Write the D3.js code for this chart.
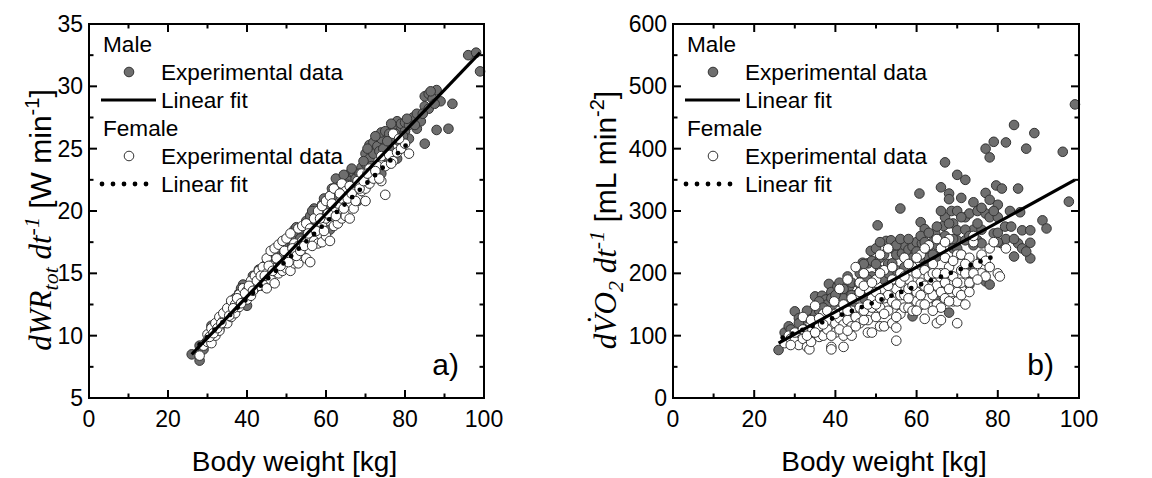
<!DOCTYPE html>
<html>
<head>
<meta charset="utf-8">
<script src="https://cdn.jsdelivr.net/npm/d3@7"></script>
<style>
  html, body { margin: 0; padding: 0; background: #fff; }
  svg { display: block; }
</style>
</head>
<body>
<svg id="chart"></svg>
<script>
// Panel a) work rate vs body weight
const maleA = [
  [26,8.5],[28,8.0],[28,9.2],[29,8.9],[30,9.6],[31,10.8],[31,9.8],[32,10.2],[33,10.5],[33,11.2],
  [34,11.0],[35,11.6],[36,12.5],[37,12.2],[37,13.0],[38,13.4],[38,12.6],[39,13.0],[39,14.1],[40,12.4],
  [40,13.6],[41,14.0],[42,14.6],[43,14.3],[43,15.3],[44,15.1],[44,14.0],[45,15.0],[46,15.6],[47,15.8],
  [47,16.4],[48,16.2],[48,17.0],[49,17.4],[50,17.2],[50,16.5],[51,17.7],[52,18.5],[52,17.6],[53,18.2],
  [54,18.4],[55,19.2],[55,18.0],[56,19.6],[57,20.2],[57,19.2],[58,20.0],[59,20.5],[59,19.8],[60,20.8],
  [60,19.5],[61,21.2],[61,18.5],[62,21.8],[62,20.6],[63,22.2],[63,21.0],[64,22.5],[64,21.6],[65,22.8],
  [65,21.4],[66,23.0],[66,22.4],[67,23.1],[67,22.0],[68,22.8],[68,20.8],[69,23.5],[69,22.6],[70,24.6],
  [70,23.8],[71,25.3],[71,24.2],[72,25.5],[72,24.6],[73,25.2],[73,26.0],[74,25.8],[74,23.0],[74,26.3],
  [75,26.4],[75,24.4],[76,26.2],[76,25.0],[77,26.8],[77,25.8],[78,27.2],[78,24.2],[79,26.5],[79,27.0],
  [80,26.4],[80,27.1],[81,26.9],[81,25.8],[82,27.5],[83,27.8],[83,26.6],[84,27.2],[85,28.4],[85,25.4],
  [85,29.2],[86,29.4],[86,28.2],[87,29.0],[88,29.7],[88,26.5],[89,28.8],[91,26.6],[92,28.6],[96,32.5],
  [98,32.7],[99,31.2],
  [29.5,9.4],[32.5,10.9],[34.5,11.6],[36.5,12.0],[38.5,13.8],[41.5,14.8],[42.5,14.0],[44.5,15.6],[45.5,15.4],
  [46.5,16.0],[49.5,16.8],[51.5,17.2],[52.5,18.7],[53.5,17.8],[55.5,18.8],[56.5,20.0],[58.5,19.2],[59.5,21.0],
  [60.5,20.1],[61.5,21.8],[62.5,22.6],[63.5,22.0],[64.5,22.9],[65.5,22.1],[66.5,23.4],[67.5,22.6],[68.5,23.0],
  [69.5,24.0],[70.5,25.0],[71.5,23.6],[72.5,26.0],[73.5,24.8],[74.5,25.0],[75.5,25.6],[76.5,27.0],[77.5,26.2],
  [78.5,25.6],[79.5,26.0],[80.5,27.4],[82.5,26.9],[84.5,27.8],[86.5,29.6],[87.5,28.6]
];
const femaleA = [
  [28,8.4],[29,9.2],[30,9.5],[30,10.1],[31,9.4],[31,10.6],[32,10.0],[32,11.0],[33,10.4],[33,11.5],
  [34,11.2],[34,11.8],[35,11.0],[35,12.2],[36,11.5],[36,12.8],[37,11.8],[37,12.5],[38,12.3],[38,13.3],
  [39,12.8],[39,13.8],[40,12.9],[40,13.6],[41,13.2],[41,14.4],[42,13.8],[42,14.8],[43,14.0],[43,15.2],
  [44,14.3],[44,15.5],[45,13.8],[45,15.0],[45,16.2],[46,14.5],[46,15.6],[46,16.8],[47,14.2],[47,15.4],
  [47,17.0],[48,15.0],[48,16.2],[48,17.3],[49,15.2],[49,16.0],[49,17.6],[50,15.4],[50,16.6],[50,17.8],
  [51,15.2],[51,16.3],[51,18.2],[52,15.8],[52,16.8],[52,17.4],[53,15.8],[53,17.2],[53,18.6],[54,16.4],
  [54,17.6],[54,18.8],[55,16.2],[55,17.6],[55,19.0],[56,15.9],[56,17.8],[56,18.6],[57,17.6],[57,19.4],
  [58,17.4],[58,18.8],[58,20.0],[59,17.5],[59,19.0],[59,20.4],[60,18.0],[60,19.4],[60,20.8],[61,17.6],
  [61,19.6],[61,21.2],[62,18.8],[62,20.2],[62,21.8],[63,19.0],[63,20.6],[64,19.4],[64,21.0],[64,22.2],
  [65,19.6],[65,20.4],[65,21.6],[66,19.4],[66,20.6],[66,22.0],[67,20.2],[67,21.5],[68,21.0],[68,22.4],
  [69,21.6],[69,23.0],[70,20.8],[70,21.8],[71,22.2],[71,23.4],[72,22.6],[73,23.6],[74,22.4],[74,24.4],
  [75,21.3],[75,23.6],[76,24.5],[77,24.0],[77,26.2],[78,24.7],[79,25.0],[80,25.4],[81,24.6],
  [30.5,9.9],[31.5,10.2],[32.5,10.6],[33.5,11.0],[35.5,11.6],[36.5,12.2],[37.5,13.0],[38.5,12.6],[39.5,13.4],
  [40.5,14.0],[41.5,13.6],[42.5,14.4],[43.5,14.8],[44.5,14.8],[45.5,15.6],[46.5,15.2],[47.5,16.2],[48.5,15.6],
  [49.5,16.8],[50.5,15.9],[51.5,17.0],[52.5,16.4],[53.5,16.8],[54.5,17.2],[55.5,18.2],[56.5,17.2],[57.5,18.4],
  [58.5,19.4],[59.5,18.4],[60.5,19.8],[61.5,20.6],[62.5,19.6],[63.5,21.4],[64.5,20.2],[65.5,21.0],[66.5,21.4],
  [67.5,20.8],[68.5,21.8],[69.5,22.4],[70.5,23.0],[72.5,23.2],[73.5,22.6],[76.5,23.8],[78.5,25.8]
];
const maleFitA = [[26, 8.5], [99, 32.7]];
const femaleFitA = [[28, 9.3], [81, 25.5]];

// Panel b) oxygen uptake vs body weight
const maleB = [
  [26,77],[27.5,105],[28.5,115],[30,139],[31,128],[32,112],[32.8,94],[33,128],[34,126],[35,135],
  [35,163],[36,140],[36.7,164],[37.6,158],[38,150],[38.4,183],[39,170],[40,145],[40.5,179],[41,185],
  [41.7,168],[42,160],[42,140],[43.4,179],[44,150],[44,185],[45,165],[45.8,184],[46,170],[46.7,217],
  [47,200],[47,160],[48,216],[48.7,236],[49,195],[49,220],[50,240],[50.4,277],[51,205],[51,225],
  [52,190],[52.5,252],[53,215],[53.7,253],[54,216],[54,240],[55,205],[55,230],[56,304],[56.4,232],
  [56.4,142],[57,225],[57,245],[58,238],[58,210],[59,243],[59,131],[59.7,232],[60,250],[60.5,147],
  [60.7,328],[61,282],[61,225],[61.3,248],[62,271],[62,235],[62,210],[63,243],[63,225],[64,250],
  [64.5,158],[64.6,264],[65,227],[65,245],[66,338],[66,255],[66,179],[66.6,276],[67,378],[67,290],
  [68,328],[68,319],[68,253],[68,137],[68.6,300],[69,240],[69,280],[70,358],[70,269],[70,253],
  [70,300],[71,321],[71,230],[72,350],[72,290],[72,253],[73,296],[73,210],[73,200],[73,182],
  [74,314],[74,245],[74,270],[75,253],[75,300],[76,270],[76,248],[76,225],[77,400],[77,329],
  [77,296],[77,187],[78,386],[78,318],[78,290],[78,182],[79,411],[79,264],[79.6,341],[80,310],
  [80,265],[80,290],[81,336],[81,248],[81.8,275],[82,410],[82,255],[83.3,275],[84,438],[84,227],
  [85,336],[85.5,298],[85,248],[86,269],[86,240],[87,400],[88,269],[88,249],[88,224],[89,425],
  [91,285],[92,272],[97.5,315],[96,395],[99,471],
  [29,110],[31,120],[33,140],[34,100],[36,155],[37,145],[39,160],[40,165],[42,175],[43,195],[44,165],
  [46,200],[47,215],[48,190],[50,215],[51,250],[52,230],[53,200],[55,245],[56,255],[57,210],[58,255],
  [59,225],[60,235],[61,260],[62,250],[63,265],[64,230],[65,275],[66,300],[67,260],[68,280],[69,255],
  [70,240],[71,290],[72,270],[73,260],[75,280],[76,305],[79,300],[80,250],[83,300],[84,255],[87,235]
];
const femaleB = [
  [27.5,88],[28.5,100],[29,95],[30,92],[31,85],[31,105],[32,95],[32,130],[33,82],[33.6,78],
  [34,110],[34,90],[35,125],[35,148],[36,98],[36,115],[37,135],[37,100],[38,110],[38,125],
  [39,82],[39,78],[39.7,155],[40,120],[40,105],[41,175],[41,140],[41,128],[42,82],[42,100],
  [42,118],[43,125],[43,190],[44,115],[44,100],[44,140],[45,210],[45,160],[45,130],[46,120],
  [46,145],[46,185],[47,200],[47,140],[48,175],[48,105],[48,125],[49,105],[49,160],[49,145],
  [50,130],[50,190],[50,170],[51,145],[51,230],[51,115],[52,205],[52,115],[52,160],[53,165],
  [53,140],[53,240],[54,190],[54,120],[54,155],[55,92],[55,113],[55,150],[55,175],[56,200],
  [56,135],[56,165],[57,225],[57,165],[57,145],[58,145],[58,190],[58,175],[59,210],[59,140],
  [59,160],[60,200],[60,170],[60,155],[61,230],[61,150],[61,185],[62,127],[62,180],[62,205],
  [63,245],[63,195],[63,160],[64,165],[64,215],[64,185],[65,120],[65,180],[65,255],[65,150],
  [66,145],[66,200],[66,240],[66,170],[67,160],[67,225],[67,185],[68,175],[68,210],[68,255],
  [69,195],[69,155],[70,120],[70,155],[70,170],[70,230],[71,230],[71,205],[71,185],[72,150],
  [72,200],[73,185],[73,225],[74,250],[74,260],[75,215],[76,230],[76,200],[77,195],[78,240],
  [79,250],[80,200],[80.5,195],[82,240],
  [29,85],[30,105],[32,110],[33,100],[34,125],[35,105],[36,128],[37,118],[38,140],[39,100],[40,135],
  [41,110],[42,150],[43,140],[43,108],[44,160],[45,115],[46,170],[47,125],[47,180],[48,150],[49,185],
  [50,150],[51,160],[51,200],[52,135],[53,180],[54,210],[55,130],[56,185],[57,195],[58,160],[58,215],
  [59,180],[60,140],[60,225],[61,165],[62,150],[62,240],[63,175],[64,140],[64,200],[65,200],[66,125],
  [67,200],[67,250],[68,155],[69,220],[70,185],[71,165],[72,215],[73,170],[74,200],[75,190],[77,220],
  [78,210]
];
const maleFitB = [[26, 88], [99, 350]];
const femaleFitB = [[27, 97], [80.5, 231]];

const xTicks = [0, 20, 40, 60, 80, 100];
const yTicksA = [5, 10, 15, 20, 25, 30, 35];
const yTicksB = [0, 100, 200, 300, 400, 500, 600];
const legendLabels = ["Male", "Experimental data", "Linear fit", "Female", "Experimental data", "Linear fit"];

const W = 1152, H = 478;
const SANS = "Arial, 'Liberation Sans', Helvetica, sans-serif";
const SERIF = "'Times New Roman', 'Liberation Serif', serif";
const maleFill = "#6e6e6e", pointStroke = "#333";

const svg = d3.select("#chart").attr("width", W).attr("height", H);

function drawPanel(p) {
  const x = d3.scaleLinear().domain([0, 100]).range([p.left, p.right]);
  const y = d3.scaleLinear().domain(p.yDomain).range([p.bottom, p.top]);
  const g = svg.append("g");

  // ticks (inward, mirrored on all sides)
  const major = 8, minor = 4.5;
  const xMinor = d3.range(10, 100, 20);
  const yMinor = p.yTicks.slice(1).map((d, i) => (d + p.yTicks[i]) / 2);
  const tick = (x1, y1, x2, y2) => g.append("line")
    .attr("x1", x1).attr("y1", y1).attr("x2", x2).attr("y2", y2)
    .attr("stroke", "#000").attr("stroke-width", 2);
  xTicks.forEach(d => { tick(x(d), p.bottom, x(d), p.bottom - major); tick(x(d), p.top, x(d), p.top + major); });
  xMinor.forEach(d => { tick(x(d), p.bottom, x(d), p.bottom - minor); tick(x(d), p.top, x(d), p.top + minor); });
  p.yTicks.forEach(d => { tick(p.left, y(d), p.left + major, y(d)); tick(p.right, y(d), p.right - major, y(d)); });
  yMinor.forEach(d => { tick(p.left, y(d), p.left + minor, y(d)); tick(p.right, y(d), p.right - minor, y(d)); });

  // tick labels
  g.selectAll(".xl").data(xTicks).join("text")
    .attr("x", d => x(d)).attr("y", p.bottom + 29)
    .attr("text-anchor", "middle").attr("font-family", SANS).attr("font-size", 23)
    .text(d => d);
  g.selectAll(".yl").data(p.yTicks).join("text")
    .attr("x", p.left - 6).attr("y", d => y(d) + 8)
    .attr("text-anchor", "end").attr("font-family", SANS).attr("font-size", 23)
    .text(d => d);

  // points
  const r = 4.8;
  g.append("g").selectAll("circle").data(p.male).join("circle")
    .attr("cx", d => x(d[0])).attr("cy", d => y(d[1])).attr("r", r)
    .attr("fill", maleFill).attr("stroke", pointStroke).attr("stroke-width", 1);
  g.append("g").selectAll("circle").data(p.female).join("circle")
    .attr("cx", d => x(d[0])).attr("cy", d => y(d[1])).attr("r", r)
    .attr("fill", "#fff").attr("stroke", pointStroke).attr("stroke-width", 1);

  // fits
  const line = d3.line().x(d => x(d[0])).y(d => y(d[1]));
  g.append("path").attr("d", line(p.maleFit))
    .attr("fill", "none").attr("stroke", "#000").attr("stroke-width", 3.2);
  g.append("path").attr("d", line(p.femaleFit))
    .attr("fill", "none").attr("stroke", "#000").attr("stroke-width", 4.8)
    .attr("stroke-linecap", "round").attr("stroke-dasharray", "0,10.6");

  // frame
  g.append("rect")
    .attr("x", p.left).attr("y", p.top)
    .attr("width", p.right - p.left).attr("height", p.bottom - p.top)
    .attr("fill", "none").attr("stroke", "#000").attr("stroke-width", 2);

  // legend
  const lx = p.left, rows = [52, 80, 108, 136, 164, 192];
  const lg = g.append("g").attr("font-family", SANS).attr("font-size", 22.6);
  lg.append("text").attr("x", lx + 14).attr("y", rows[0]).text(legendLabels[0]);
  lg.append("circle").attr("cx", lx + 40).attr("cy", rows[1] - 8).attr("r", r)
    .attr("fill", maleFill).attr("stroke", pointStroke);
  lg.append("text").attr("x", lx + 72).attr("y", rows[1]).text(legendLabels[1]);
  lg.append("line").attr("x1", lx + 12).attr("x2", lx + 67).attr("y1", rows[2] - 8).attr("y2", rows[2] - 8)
    .attr("stroke", "#000").attr("stroke-width", 3.2);
  lg.append("text").attr("x", lx + 72).attr("y", rows[2]).text(legendLabels[2]);
  lg.append("text").attr("x", lx + 14).attr("y", rows[3]).text(legendLabels[3]);
  lg.append("circle").attr("cx", lx + 40).attr("cy", rows[4] - 8).attr("r", r)
    .attr("fill", "#fff").attr("stroke", pointStroke);
  lg.append("text").attr("x", lx + 72).attr("y", rows[4]).text(legendLabels[4]);
  lg.append("line").attr("x1", lx + 13).attr("x2", lx + 58).attr("y1", rows[5] - 8).attr("y2", rows[5] - 8)
    .attr("stroke", "#000").attr("stroke-width", 4.8)
    .attr("stroke-linecap", "round").attr("stroke-dasharray", "0,11");
  lg.append("text").attr("x", lx + 72).attr("y", rows[5]).text(legendLabels[5]);

  // panel tag
  g.append("text").attr("x", p.right - 25).attr("y", p.bottom - 23)
    .attr("text-anchor", "end").attr("font-family", SANS).attr("font-size", 30)
    .text(p.tag);

  // x title
  g.append("text").attr("x", (p.left + p.right) / 2 + 8).attr("y", p.bottom + 73)
    .attr("text-anchor", "middle").attr("font-family", SANS).attr("font-size", 28)
    .text("Body weight [kg]");

  // y title
  const yt = g.append("text")
    .attr("transform", `translate(${p.left - p.titleGap},${(p.top + p.bottom) / 2 + 9}) rotate(-90)`)
    .attr("text-anchor", "middle").attr("font-size", 31);
  p.yTitle.forEach(s => {
    const t = yt.append("tspan").text(s.t)
      .attr("font-family", s.serif ? SERIF : SANS)
      .attr("font-style", s.serif ? "italic" : "normal");
    if (s.dx) t.attr("dx", s.dx);
    if (s.dy) t.attr("dy", s.dy);
    if (s.size) t.attr("font-size", s.size);
  });
}

drawPanel({
  left: 89, right: 484, top: 24, bottom: 398, titleGap: 38,
  yDomain: [5, 35], yTicks: yTicksA,
  male: maleA, female: femaleA, maleFit: maleFitA, femaleFit: femaleFitA,
  tag: "a)",
  yTitle: [
    { t: "dWR", serif: true },
    { t: "tot", serif: true, dy: 7, size: 22 },
    { t: " dt", serif: true, dy: -7 },
    { t: "-1", serif: true, dy: -12, size: 22 },
    { t: " [W min", dy: 12, size: 30 },
    { t: "-1", dy: -12, size: 20 },
    { t: "]", dy: 12, size: 30 }
  ]
});

drawPanel({
  left: 673, right: 1079, top: 24, bottom: 398, titleGap: 57,
  yDomain: [0, 600], yTicks: yTicksB,
  male: maleB, female: femaleB, maleFit: maleFitB, femaleFit: femaleFitB,
  tag: "b)",
  yTitle: [
    { t: "dV", serif: true },
    { t: "\u02D9", serif: true, dx: -12, dy: -7 },
    { t: "O", serif: true, dx: 2, dy: 7 },
    { t: "2", serif: true, dy: 7, size: 22 },
    { t: " dt", serif: true, dy: -7 },
    { t: "-1", serif: true, dy: -12, size: 22 },
    { t: " [mL min", dy: 12, size: 30 },
    { t: "-2", dy: -12, size: 20 },
    { t: "]", dy: 12, size: 30 }
  ]
});
</script>
</body>
</html>
